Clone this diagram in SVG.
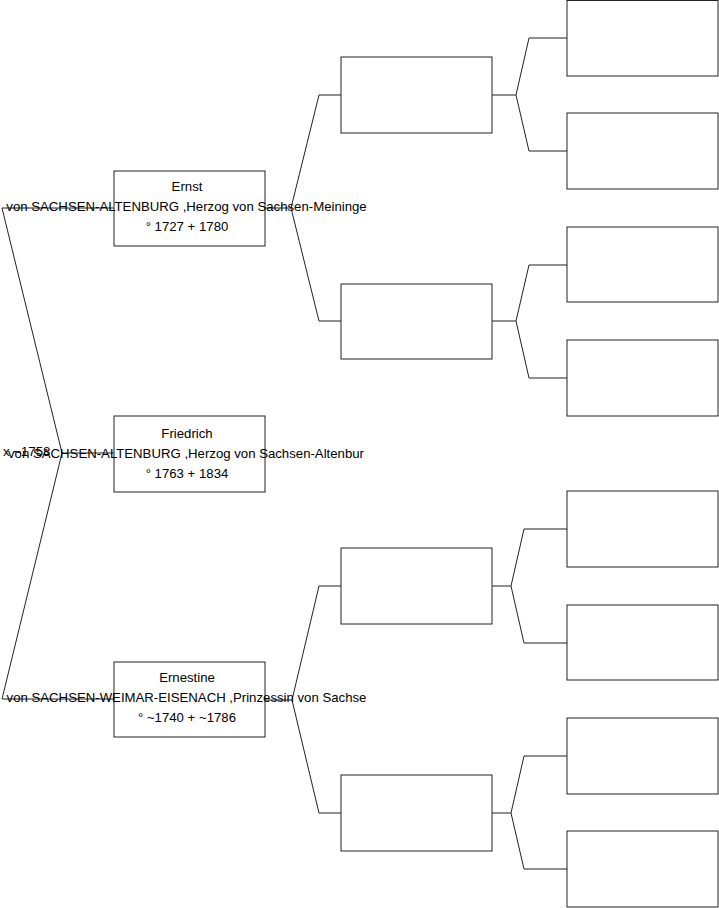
<svg xmlns="http://www.w3.org/2000/svg" width="719" height="908" viewBox="0 0 719 908">
<style>
.box{fill:#fff;stroke:#222;stroke-width:1}
.ln{fill:none;stroke:#222;stroke-width:1}
text{font-family:"Liberation Sans",Arial,sans-serif;font-size:13.2px;fill:#000}
.c{text-anchor:middle}
</style>
<rect width="719" height="908" fill="#fff"/>
<g id="connectors">
<polyline class="ln" points="114,208 2,208 62,453 2,699 114,699"/>
<line class="ln" x1="62" y1="453" x2="114" y2="453"/>
<polyline class="ln" points="341,95 319,95 291,208 319,321 341,321"/>
<line class="ln" x1="265" y1="208" x2="291" y2="208"/>
<polyline class="ln" points="341,586 319,586 292,700 319,813 341,813"/>
<line class="ln" x1="265" y1="700" x2="292" y2="700"/>
<polyline class="ln" points="567,38 529,38 516,95 529,151 567,151"/>
<line class="ln" x1="492" y1="95" x2="516" y2="95"/>
<polyline class="ln" points="567,265 529,265 516,321 529,378 567,378"/>
<line class="ln" x1="492" y1="321" x2="516" y2="321"/>
<polyline class="ln" points="567,529 524,529 511,586 524,643 567,643"/>
<line class="ln" x1="492" y1="586" x2="511" y2="586"/>
<polyline class="ln" points="567,756 524,756 511,813 524,869 567,869"/>
<line class="ln" x1="492" y1="813" x2="511" y2="813"/>
</g>
<g id="ernst">
<rect class="box" x="114" y="171" width="151" height="75"/>
<text class="c" x="187" y="191">Ernst</text>
<text class="c" x="186.5" y="211">von SACHSEN-ALTENBURG ,Herzog von Sachsen-Meininge</text>
<text class="c" x="187" y="231">° 1727 + 1780</text>
</g>
<g id="friedrich">
<rect class="box" x="114" y="416" width="151" height="76"/>
<text class="c" x="187" y="438">Friedrich</text>
<text class="c" x="186" y="458">von SACHSEN-ALTENBURG ,Herzog von Sachsen-Altenbur</text>
<text class="c" x="187" y="478">° 1763 + 1834</text>
</g>
<g id="marriage">
<text x="3" y="456">x ~1758</text>
</g>
<g id="ernestine">
<rect class="box" x="114" y="662" width="151" height="75"/>
<text class="c" x="187" y="682">Ernestine</text>
<text class="c" x="186.5" y="702">von SACHSEN-WEIMAR-EISENACH ,Prinzessin von Sachse</text>
<text class="c" x="187" y="722">° ~1740 + ~1786</text>
</g>
<g id="p2a"><rect class="box" x="341" y="57" width="151" height="76"/></g>
<g id="p2b"><rect class="box" x="341" y="284" width="151" height="75"/></g>
<g id="p2c"><rect class="box" x="341" y="548" width="151" height="76"/></g>
<g id="p2d"><rect class="box" x="341" y="775" width="151" height="76"/></g>
<g id="p3a"><rect class="box" x="567" y="0.5" width="151" height="75.5"/></g>
<g id="p3b"><rect class="box" x="567" y="113" width="151" height="76"/></g>
<g id="p3c"><rect class="box" x="567" y="227" width="151" height="75"/></g>
<g id="p3d"><rect class="box" x="567" y="340" width="151" height="76"/></g>
<g id="p3e"><rect class="box" x="567" y="491" width="151" height="76"/></g>
<g id="p3f"><rect class="box" x="567" y="605" width="151" height="75"/></g>
<g id="p3g"><rect class="box" x="567" y="718" width="151" height="76"/></g>
<g id="p3h"><rect class="box" x="567" y="831" width="151" height="76"/></g>
</svg>
